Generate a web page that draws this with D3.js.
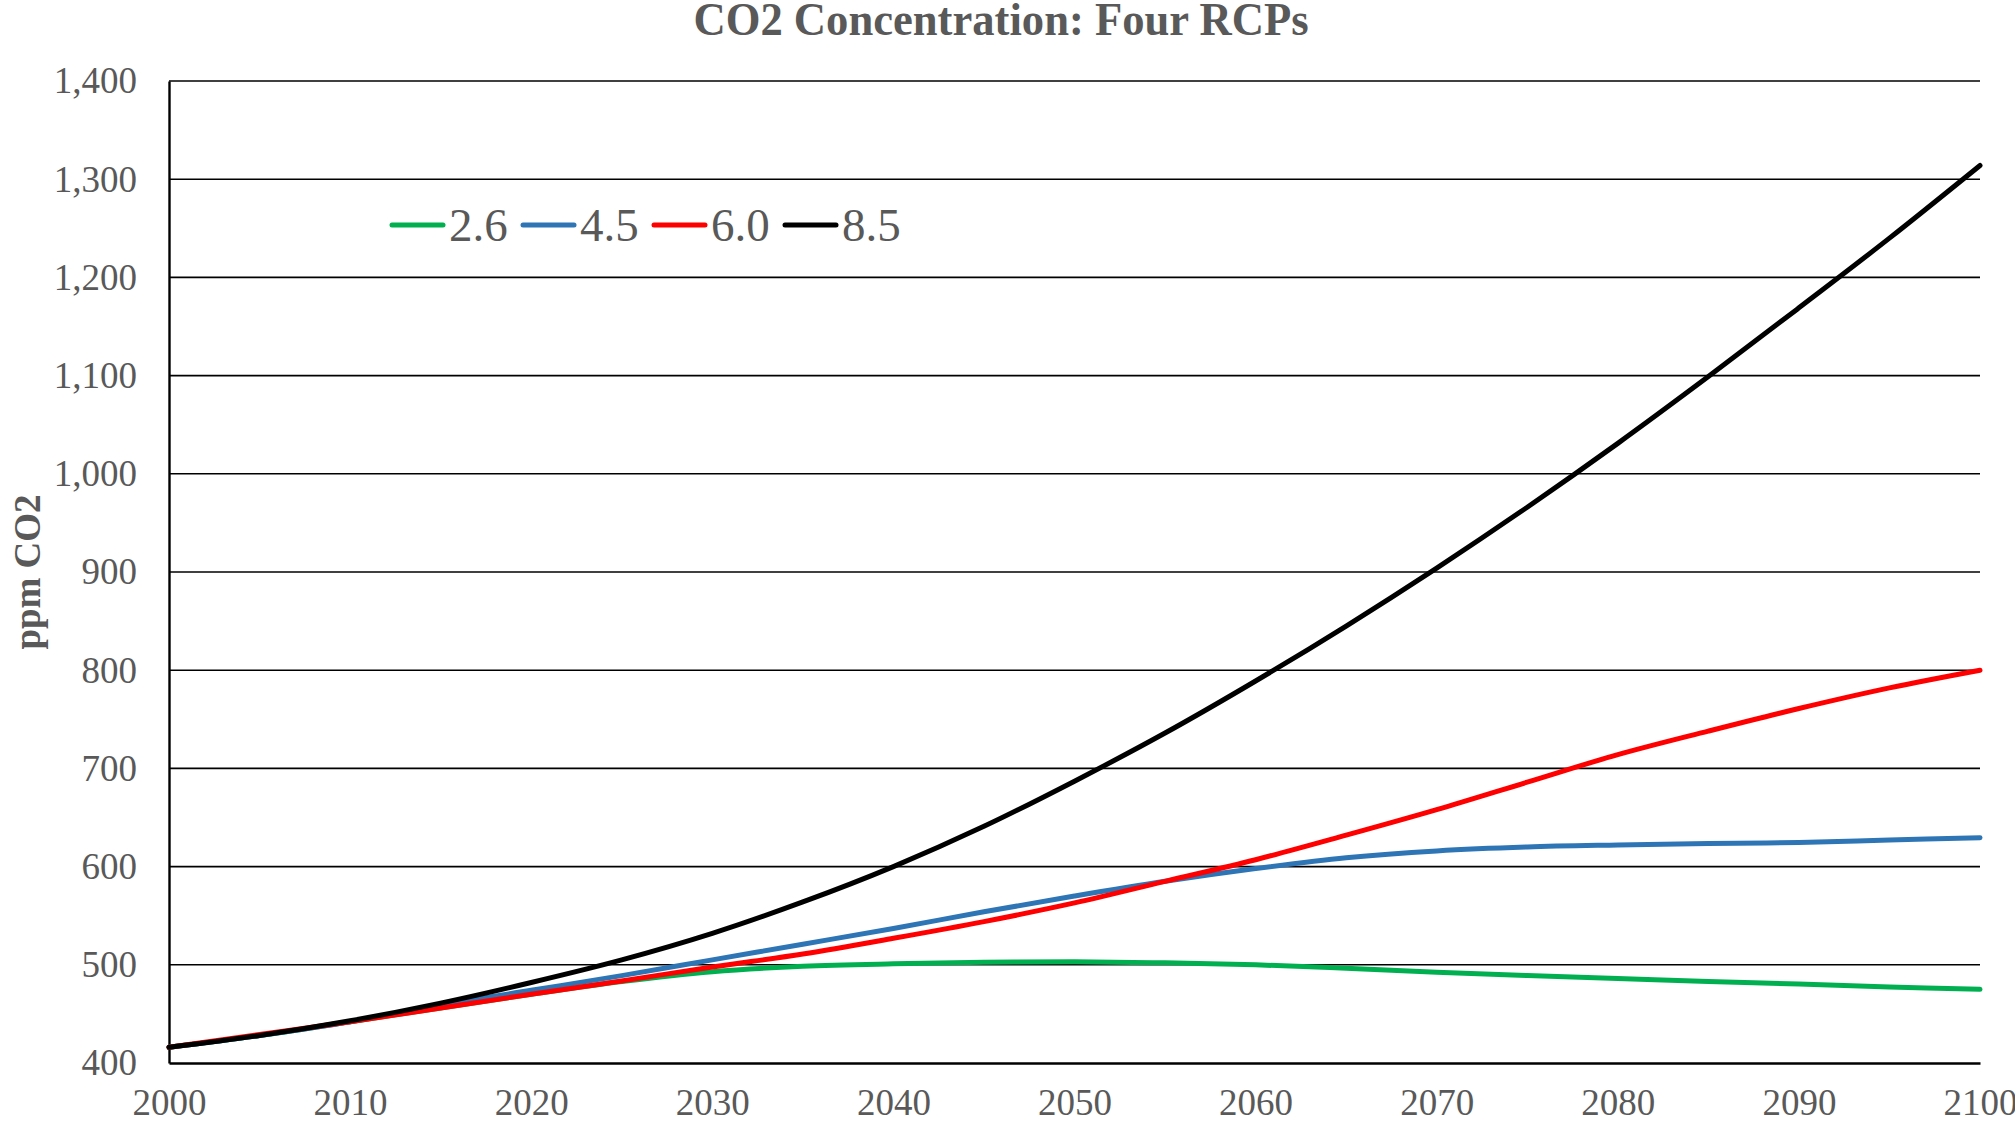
<!DOCTYPE html>
<html>
<head>
<meta charset="utf-8">
<script src="https://cdn.jsdelivr.net/npm/d3@7"></script>
<style>
  html, body { margin: 0; padding: 0; background: #ffffff; }
  svg { display: block; }
  text { font-family: "Liberation Serif", "Times New Roman", serif; fill: #595959; }
</style>
</head>
<body>
<svg id="chart" width="2015" height="1124"></svg>
<script>
// Years sampled every five years, 2000–2100
const years = [2000, 2005, 2010, 2015, 2020, 2025, 2030, 2035, 2040, 2045, 2050,
               2055, 2060, 2065, 2070, 2075, 2080, 2085, 2090, 2095, 2100];

// CO2 concentration (ppm) for each Representative Concentration Pathway
const rcp26 = [416, 428, 442, 456, 470, 483, 493, 498.5, 501, 502.5, 503,
               502, 500, 496.5, 492.5, 489, 486, 483, 480.5, 477.5, 475];
const rcp45 = [416, 428, 442, 459, 474, 489, 505, 521, 537, 554, 570,
               585, 598, 609, 616, 620, 622, 623.5, 624.5, 627, 629.5];
const rcp60 = [416, 429, 442, 456, 470, 483.5, 497.8, 511, 527, 544, 563,
               585, 607, 632, 658, 686, 714, 738, 761, 782, 800];
const rcp85 = [416, 428, 443, 461, 482, 505, 532, 564, 600, 641, 687,
               736, 789, 845, 904, 966, 1031, 1099, 1169, 1240, 1314];

const seriesNames = ["2.6", "4.5", "6.0", "8.5"];
const seriesValues = [rcp26, rcp45, rcp60, rcp85];
const seriesColors = ["#00B050", "#2E75B6", "#FF0000", "#000000"];

const xTicks = d3.range(2000, 2101, 10);
const yTicks = d3.range(400, 1401, 100);

const svg = d3.select("#chart");
const margin = { left: 169, right: 35, top: 81, bottom: 61 };
const W = 2015, H = 1124;

const x = d3.scaleLinear().domain([2000, 2100]).range([margin.left, W - margin.right]);
const y = d3.scaleLinear().domain([400, 1400]).range([H - margin.bottom, margin.top]);

// Title
svg.append("text")
  .attr("x", 1001).attr("y", 35)
  .attr("text-anchor", "middle")
  .attr("textLength", 615)
  .attr("lengthAdjust", "spacingAndGlyphs")
  .style("font-size", "47px").style("font-weight", "bold")
  .text("CO2 Concentration: Four RCPs");

// Horizontal gridlines
svg.append("g")
  .selectAll("line")
  .data(yTicks.slice(1))
  .join("line")
  .attr("x1", x(2000)).attr("x2", x(2100))
  .attr("y1", d => y(d)).attr("y2", d => y(d))
  .attr("stroke", "#000").attr("stroke-width", 1.6);

// Y axis
const yAxis = svg.append("g")
  .attr("transform", `translate(${x(2000)},0)`)
  .call(d3.axisLeft(y).tickValues(yTicks).tickSize(0).tickPadding(32).tickFormat(d3.format(",")));
yAxis.select(".domain").attr("stroke", "#000").attr("stroke-width", 2.4);
yAxis.selectAll("text")
  .style("font-size", "37px")
  .style("font-family", "'Liberation Serif', 'Times New Roman', serif")
  .attr("fill", "#595959");

// X axis
const xAxis = svg.append("g")
  .attr("transform", `translate(0,${y(400)})`)
  .call(d3.axisBottom(x).tickValues(xTicks).tickSize(0).tickPadding(26).tickFormat(d3.format("d")));
xAxis.select(".domain").attr("stroke", "#000").attr("stroke-width", 2.4);
xAxis.selectAll("text")
  .style("font-size", "37px")
  .style("font-family", "'Liberation Serif', 'Times New Roman', serif")
  .attr("fill", "#595959");

// Y axis title
svg.append("text")
  .attr("transform", `translate(40,${572}) rotate(-90)`)
  .attr("text-anchor", "middle")
  .style("font-size", "37px").style("font-weight", "bold")
  .text("ppm CO2");

// Series lines
const line = d3.line()
  .x((d, i) => x(years[i]))
  .y(d => y(d))
  .curve(d3.curveCatmullRom.alpha(0.5));

svg.append("g")
  .selectAll("path")
  .data(seriesValues)
  .join("path")
  .attr("d", d => line(d))
  .attr("fill", "none")
  .attr("stroke", (d, i) => seriesColors[i])
  .attr("stroke-width", 5)
  .attr("stroke-linejoin", "round")
  .attr("stroke-linecap", "round");

// Legend
const legend = svg.append("g").attr("transform", "translate(392,225)");
const item = legend.selectAll("g")
  .data(seriesNames)
  .join("g")
  .attr("transform", (d, i) => `translate(${i * 131},0)`);
item.append("line")
  .attr("x1", 0).attr("x2", 51)
  .attr("y1", 0).attr("y2", 0)
  .attr("stroke", (d, i) => seriesColors[i])
  .attr("stroke-width", 5)
  .attr("stroke-linecap", "round");
item.append("text")
  .attr("x", 57).attr("y", 16)
  .style("font-size", "47px")
  .text(d => d);
</script>
</body>
</html>
